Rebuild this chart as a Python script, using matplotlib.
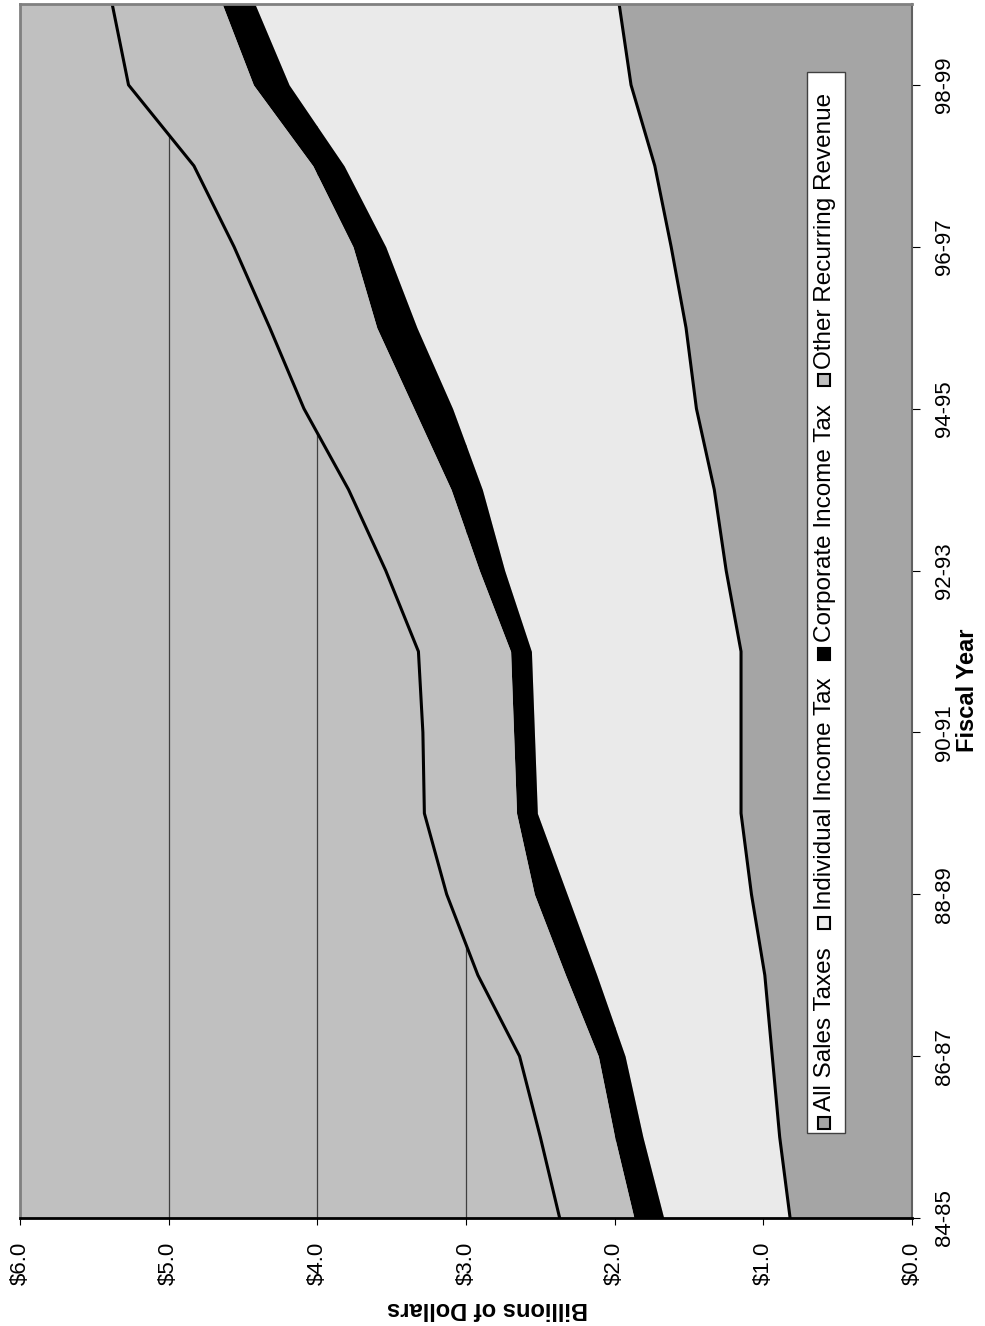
import numpy as np
import matplotlib
matplotlib.use('Agg')
import matplotlib.pyplot as plt
from matplotlib.patches import Rectangle

# data (billions of dollars)
years = ['84-85', '85-86', '86-87', '87-88', '88-89', '89-90', '90-91', '91-92',
         '92-93', '93-94', '94-95', '95-96', '96-97', '97-98', '98-99', '99-00']
sales = [0.82, 0.89, 0.94, 0.99, 1.08, 1.15, 1.15, 1.15,
         1.25, 1.33, 1.45, 1.52, 1.62, 1.73, 1.89, 1.97]
individual = [0.85, 0.92, 0.99, 1.13, 1.24, 1.37, 1.39, 1.41,
              1.49, 1.56, 1.64, 1.81, 1.92, 2.09, 2.30, 2.45]
corporate = [0.20, 0.19, 0.18, 0.21, 0.22, 0.14, 0.14, 0.14,
             0.17, 0.21, 0.26, 0.27, 0.22, 0.21, 0.24, 0.22]
other = [0.50, 0.50, 0.53, 0.59, 0.59, 0.62, 0.61, 0.62,
         0.63, 0.69, 0.74, 0.72, 0.80, 0.80, 0.84, 0.74]
value_ticks = [0, 1, 2, 3, 4, 5, 6]
value_labels = ['$0.0', '$1.0', '$2.0', '$3.0', '$4.0', '$5.0', '$6.0']
legend_names = ['All Sales Taxes', 'Individual Income Tax', 'Corporate Income Tax', 'Other Recurring Revenue']
legend_colors = ['#a5a5a5', '#eaeaea', 'black', '#c0c0c0']

W, H = 985, 1326
def fx(x): return x / W
def fy(y): return 1 - y / H

plt.rcParams.update({'font.family': ['Liberation Sans', 'DejaVu Sans'], 'font.size': 16})
fig = plt.figure(figsize=(W / 100, H / 100), dpi=100)
ax = fig.add_axes([fx(20), fy(1218), (912 - 20) / W, (1218 - 4) / H])
ax.set_facecolor('#c0c0c0')

# chart is drawn turned on its side: values run right to left, years bottom to top
idx = np.arange(len(years))
s = np.array(sales)
si = s + np.array(individual)
sic = si + np.array(corporate)
tot = sic + np.array(other)
ax.fill_betweenx(idx, 0, s, color=legend_colors[0], lw=0)
ax.fill_betweenx(idx, s, si, color=legend_colors[1], lw=0)
ax.fill_betweenx(idx, si, sic, color=legend_colors[2], lw=0)
ax.fill_betweenx(idx, sic, tot, color=legend_colors[3], lw=0)
ax.plot(s, idx, color='black', lw=2.2)
ax.plot(tot, idx, color='black', lw=2.2)

ax.set_xlim(6, 0)
ax.set_ylim(0, len(years) - 1)
ax.set_axisbelow(True)
ax.xaxis.grid(True, color='#404040', lw=0.9)

ax.set_xticks(value_ticks)
ax.set_xticklabels(value_labels, rotation=90)
ax.tick_params(axis='x', direction='out', length=5, pad=12, colors='black')
ax.yaxis.tick_right()
ax.set_yticks(idx[::2])
ax.set_yticklabels(years[::2], rotation=90, va='center')
ax.tick_params(axis='y', direction='out', length=6, pad=10)

for side in ['left', 'top']:
    ax.spines[side].set_color('#808080')
    ax.spines[side].set_linewidth(2)
ax.spines['right'].set_color('#606060')
ax.spines['right'].set_linewidth(1.5)
ax.spines['bottom'].set_color('black')
ax.spines['bottom'].set_linewidth(2)

# axis titles
fig.text(fx(968), fy(690), 'Fiscal Year', rotation=90, ha='center', va='center',
         fontweight='bold', fontsize=17)
fig.text(fx(487), fy(1308), 'Billions of Dollars', rotation=180, ha='center', va='center',
         fontweight='bold', fontsize=17)

# legend, drawn by hand since it is rotated
fig.add_artist(Rectangle((fx(807), fy(1133)), 38 / W, (1133 - 72) / H, transform=fig.transFigure,
                         facecolor='white', edgecolor='#404040', lw=1, zorder=5))
marker_y = [1123, 923, 654, 380]
text_y = [1111, 910, 642, 369]
for name, col, my, ty in zip(legend_names, legend_colors, marker_y, text_y):
    fig.add_artist(Rectangle((fx(818), fy(my + 6)), 12 / W, 12 / H, transform=fig.transFigure,
                             facecolor=col, edgecolor='black', lw=1.5, zorder=6))
    fig.text(fx(825), fy(ty), name, rotation=90, ha='center', va='bottom', zorder=6, fontsize=17.5)

fig.savefig('out.png', dpi=100)
